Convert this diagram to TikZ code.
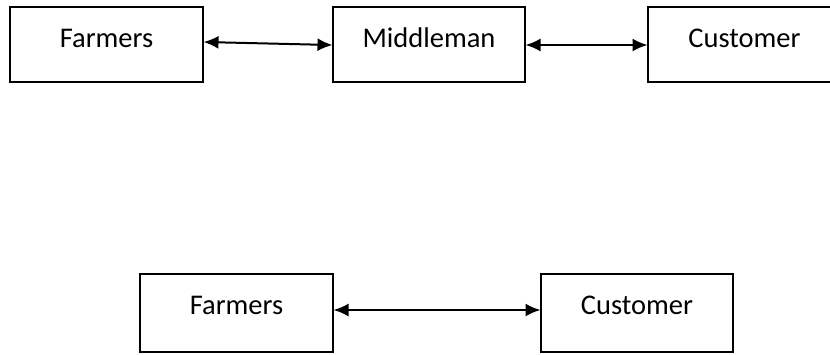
\documentclass[tikz,border=0pt]{standalone}
\usepackage{fontspec}
\setmainfont{Carlito}
\usetikzlibrary{arrows.meta}
\tikzset{
  box/.style={draw=black, line width=2pt, rectangle, inner xsep=0pt, inner ysep=0pt,
    minimum width=193pt, text height=40pt, text depth=35pt, align=center,
    font=\fontsize{28.5}{34}\selectfont},
  lowbox/.style={box, text depth=38pt},
  link/.style={line width=2pt, {Latex[length=15pt,width=13pt]}-{Latex[length=15pt,width=13pt]}, shorten <=-0.5pt, shorten >=-0.5pt}
}
\begin{document}
\begin{tikzpicture}[x=1pt,y=-1pt]
\useasboundingbox (0,0) rectangle (830,354);
\clip (0,0) rectangle (830,354);
\node[box] (f1) at (106.5,44.5) {Farmers};
\node[box, minimum width=192pt] (m) at (429,44.5) {Middleman};
\node[box] (c1) at (744.5,44.5) {Customer};
\node[lowbox] (f2) at (236.5,313) {Farmers};
\node[lowbox, minimum width=192pt] (c2) at (637,313) {Customer};
\draw[link] ([yshift=2.5pt]f1.east) -- ([yshift=-0.5pt]m.west);
\draw[link] ([yshift=-0.5pt]m.east) -- ([yshift=-0.5pt]c1.west);
\draw[link] ([yshift=3pt]f2.east) -- ([yshift=3pt]c2.west);
\end{tikzpicture}
\end{document}
